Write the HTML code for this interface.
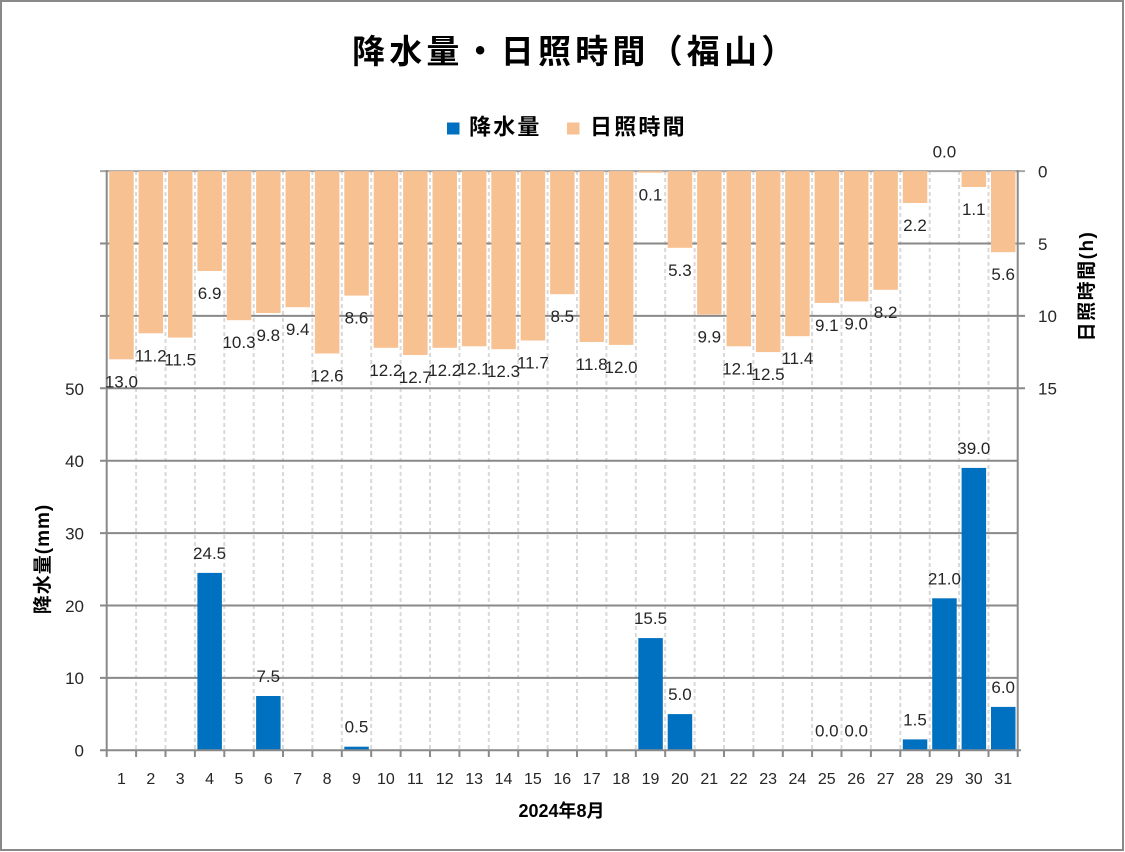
<!DOCTYPE html>
<html><head><meta charset="utf-8"><style>
html,body{margin:0;padding:0;background:#fff;}
svg{display:block;}
text{font-family:"Liberation Sans","Noto Sans CJK JP",sans-serif;}
</style></head><body>
<svg width="1125" height="852" viewBox="0 0 1125 852" xmlns="http://www.w3.org/2000/svg">
<rect x="0" y="0" width="1125" height="852" fill="#fff"/>
<rect x="1" y="1" width="1122" height="849" fill="none" stroke="#898989" stroke-width="2"/>

<!-- title -->
<text x="352" y="63" font-size="33" font-weight="bold" letter-spacing="4.2" fill="#000">降水量・日照時間（福山）</text>

<!-- legend -->
<rect x="447" y="122.5" width="12.5" height="12" fill="#0070C0"/>
<text x="469" y="134.5" font-size="22" font-weight="bold" letter-spacing="2.2" fill="#000">降水量</text>
<rect x="567" y="122.5" width="12.5" height="12" fill="#F8C191"/>
<text x="590" y="134.5" font-size="22" font-weight="bold" letter-spacing="2.2" fill="#000">日照時間</text>

<!-- dashed vertical gridlines -->
<g stroke="#d9d9d9" stroke-width="2" stroke-dasharray="4,3">
<line x1="136.1" y1="171" x2="136.1" y2="750"/>
<line x1="165.5" y1="171" x2="165.5" y2="750"/>
<line x1="194.9" y1="171" x2="194.9" y2="750"/>
<line x1="224.3" y1="171" x2="224.3" y2="750"/>
<line x1="253.7" y1="171" x2="253.7" y2="750"/>
<line x1="283.0" y1="171" x2="283.0" y2="750"/>
<line x1="312.4" y1="171" x2="312.4" y2="750"/>
<line x1="341.8" y1="171" x2="341.8" y2="750"/>
<line x1="371.2" y1="171" x2="371.2" y2="750"/>
<line x1="400.6" y1="171" x2="400.6" y2="750"/>
<line x1="430.0" y1="171" x2="430.0" y2="750"/>
<line x1="459.4" y1="171" x2="459.4" y2="750"/>
<line x1="488.8" y1="171" x2="488.8" y2="750"/>
<line x1="518.2" y1="171" x2="518.2" y2="750"/>
<line x1="547.6" y1="171" x2="547.6" y2="750"/>
<line x1="577.0" y1="171" x2="577.0" y2="750"/>
<line x1="606.4" y1="171" x2="606.4" y2="750"/>
<line x1="635.8" y1="171" x2="635.8" y2="750"/>
<line x1="665.2" y1="171" x2="665.2" y2="750"/>
<line x1="694.6" y1="171" x2="694.6" y2="750"/>
<line x1="724.0" y1="171" x2="724.0" y2="750"/>
<line x1="753.4" y1="171" x2="753.4" y2="750"/>
<line x1="782.8" y1="171" x2="782.8" y2="750"/>
<line x1="812.1" y1="171" x2="812.1" y2="750"/>
<line x1="841.5" y1="171" x2="841.5" y2="750"/>
<line x1="870.9" y1="171" x2="870.9" y2="750"/>
<line x1="900.3" y1="171" x2="900.3" y2="750"/>
<line x1="929.7" y1="171" x2="929.7" y2="750"/>
<line x1="959.1" y1="171" x2="959.1" y2="750"/>
<line x1="988.5" y1="171" x2="988.5" y2="750"/>
</g>

<!-- horizontal gridlines -->
<g stroke="#898989" stroke-width="2">
<line x1="100" y1="171.1" x2="1025" y2="171.1" stroke="#a6a6a6"/>
<line x1="100" y1="243.5" x2="1025" y2="243.5"/>
<line x1="100" y1="315.9" x2="1025" y2="315.9"/>
<line x1="100" y1="388.3" x2="1025" y2="388.3"/>
<line x1="100" y1="460.7" x2="1018" y2="460.7"/>
<line x1="100" y1="533.1" x2="1018" y2="533.1"/>
<line x1="100" y1="605.5" x2="1018" y2="605.5"/>
<line x1="100" y1="677.9" x2="1018" y2="677.9"/>
</g>

<!-- sunshine bars -->
<g fill="#F8C191">
<rect x="109.2" y="171.1" width="24.5" height="188.2"/>
<rect x="138.6" y="171.1" width="24.5" height="162.2"/>
<rect x="168.0" y="171.1" width="24.5" height="166.5"/>
<rect x="197.4" y="171.1" width="24.5" height="99.9"/>
<rect x="226.8" y="171.1" width="24.5" height="149.1"/>
<rect x="256.1" y="171.1" width="24.5" height="141.9"/>
<rect x="285.5" y="171.1" width="24.5" height="136.1"/>
<rect x="314.9" y="171.1" width="24.5" height="182.4"/>
<rect x="344.3" y="171.1" width="24.5" height="124.5"/>
<rect x="373.7" y="171.1" width="24.5" height="176.7"/>
<rect x="403.1" y="171.1" width="24.5" height="183.9"/>
<rect x="432.5" y="171.1" width="24.5" height="176.7"/>
<rect x="461.9" y="171.1" width="24.5" height="175.2"/>
<rect x="491.3" y="171.1" width="24.5" height="178.1"/>
<rect x="520.7" y="171.1" width="24.5" height="169.4"/>
<rect x="550.1" y="171.1" width="24.5" height="123.1"/>
<rect x="579.5" y="171.1" width="24.5" height="170.9"/>
<rect x="608.9" y="171.1" width="24.5" height="173.8"/>
<rect x="638.3" y="171.1" width="24.5" height="1.6"/>
<rect x="667.7" y="171.1" width="24.5" height="76.7"/>
<rect x="697.1" y="171.1" width="24.5" height="143.4"/>
<rect x="726.5" y="171.1" width="24.5" height="175.2"/>
<rect x="755.9" y="171.1" width="24.5" height="181.0"/>
<rect x="785.2" y="171.1" width="24.5" height="165.1"/>
<rect x="814.6" y="171.1" width="24.5" height="131.8"/>
<rect x="844.0" y="171.1" width="24.5" height="130.3"/>
<rect x="873.4" y="171.1" width="24.5" height="118.7"/>
<rect x="902.8" y="171.1" width="24.5" height="31.9"/>
<rect x="961.6" y="171.1" width="24.5" height="15.9"/>
<rect x="991.0" y="171.1" width="24.5" height="81.1"/>
</g>

<!-- rain bars -->
<g fill="#0070C0">
<rect x="197.4" y="572.9" width="24.5" height="177.4"/>
<rect x="256.1" y="696.0" width="24.5" height="54.3"/>
<rect x="344.3" y="746.7" width="24.5" height="3.6"/>
<rect x="638.3" y="638.1" width="24.5" height="112.2"/>
<rect x="667.7" y="714.1" width="24.5" height="36.2"/>
<rect x="902.8" y="739.4" width="24.5" height="10.9"/>
<rect x="932.2" y="598.3" width="24.5" height="152.0"/>
<rect x="961.6" y="467.9" width="24.5" height="282.4"/>
<rect x="991.0" y="706.9" width="24.5" height="43.4"/>
</g>

<!-- axes -->
<g stroke="#898989" stroke-width="2">
<line x1="106.7" y1="170.1" x2="106.7" y2="757"/>
<line x1="1017.7" y1="170.1" x2="1017.7" y2="757"/>
<line x1="100" y1="750.3" x2="1021" y2="750.3"/>
<line x1="136.1" y1="750" x2="136.1" y2="757"/>
<line x1="165.5" y1="750" x2="165.5" y2="757"/>
<line x1="194.9" y1="750" x2="194.9" y2="757"/>
<line x1="224.3" y1="750" x2="224.3" y2="757"/>
<line x1="253.7" y1="750" x2="253.7" y2="757"/>
<line x1="283.0" y1="750" x2="283.0" y2="757"/>
<line x1="312.4" y1="750" x2="312.4" y2="757"/>
<line x1="341.8" y1="750" x2="341.8" y2="757"/>
<line x1="371.2" y1="750" x2="371.2" y2="757"/>
<line x1="400.6" y1="750" x2="400.6" y2="757"/>
<line x1="430.0" y1="750" x2="430.0" y2="757"/>
<line x1="459.4" y1="750" x2="459.4" y2="757"/>
<line x1="488.8" y1="750" x2="488.8" y2="757"/>
<line x1="518.2" y1="750" x2="518.2" y2="757"/>
<line x1="547.6" y1="750" x2="547.6" y2="757"/>
<line x1="577.0" y1="750" x2="577.0" y2="757"/>
<line x1="606.4" y1="750" x2="606.4" y2="757"/>
<line x1="635.8" y1="750" x2="635.8" y2="757"/>
<line x1="665.2" y1="750" x2="665.2" y2="757"/>
<line x1="694.6" y1="750" x2="694.6" y2="757"/>
<line x1="724.0" y1="750" x2="724.0" y2="757"/>
<line x1="753.4" y1="750" x2="753.4" y2="757"/>
<line x1="782.8" y1="750" x2="782.8" y2="757"/>
<line x1="812.1" y1="750" x2="812.1" y2="757"/>
<line x1="841.5" y1="750" x2="841.5" y2="757"/>
<line x1="870.9" y1="750" x2="870.9" y2="757"/>
<line x1="900.3" y1="750" x2="900.3" y2="757"/>
<line x1="929.7" y1="750" x2="929.7" y2="757"/>
<line x1="959.1" y1="750" x2="959.1" y2="757"/>
<line x1="988.5" y1="750" x2="988.5" y2="757"/>
</g>

<!-- left tick labels -->
<g font-size="17" fill="#262626" text-anchor="end">
<text x="84" y="395">50</text>
<text x="84" y="467">40</text>
<text x="84" y="539.5">30</text>
<text x="84" y="612">20</text>
<text x="84" y="684">10</text>
<text x="84" y="756.5">0</text>
</g>
<!-- right tick labels -->
<g font-size="17" fill="#262626" text-anchor="start">
<text x="1038" y="177.5">0</text>
<text x="1038" y="250">5</text>
<text x="1038" y="322">10</text>
<text x="1038" y="394.5">15</text>
</g>

<!-- x labels -->
<g font-size="16" fill="#262626" text-anchor="middle">
<text x="121.4" y="784">1</text>
<text x="150.8" y="784">2</text>
<text x="180.2" y="784">3</text>
<text x="209.6" y="784">4</text>
<text x="239.0" y="784">5</text>
<text x="268.3" y="784">6</text>
<text x="297.7" y="784">7</text>
<text x="327.1" y="784">8</text>
<text x="356.5" y="784">9</text>
<text x="385.9" y="784">10</text>
<text x="415.3" y="784">11</text>
<text x="444.7" y="784">12</text>
<text x="474.1" y="784">13</text>
<text x="503.5" y="784">14</text>
<text x="532.9" y="784">15</text>
<text x="562.3" y="784">16</text>
<text x="591.7" y="784">17</text>
<text x="621.1" y="784">18</text>
<text x="650.5" y="784">19</text>
<text x="679.9" y="784">20</text>
<text x="709.3" y="784">21</text>
<text x="738.7" y="784">22</text>
<text x="768.1" y="784">23</text>
<text x="797.4" y="784">24</text>
<text x="826.8" y="784">25</text>
<text x="856.2" y="784">26</text>
<text x="885.6" y="784">27</text>
<text x="915.0" y="784">28</text>
<text x="944.4" y="784">29</text>
<text x="973.8" y="784">30</text>
<text x="1003.2" y="784">31</text>
</g>

<!-- sunshine data labels -->
<g font-size="17" fill="#262626" text-anchor="middle">
<text x="121.4" y="387.3">13.0</text>
<text x="150.8" y="361.3">11.2</text>
<text x="180.2" y="365.6">11.5</text>
<text x="209.6" y="299.0">6.9</text>
<text x="239.0" y="348.2">10.3</text>
<text x="268.3" y="341.0">9.8</text>
<text x="297.7" y="335.2">9.4</text>
<text x="327.1" y="381.5">12.6</text>
<text x="356.5" y="323.6">8.6</text>
<text x="385.9" y="375.8">12.2</text>
<text x="415.3" y="383.0">12.7</text>
<text x="444.7" y="375.8">12.2</text>
<text x="474.1" y="374.3">12.1</text>
<text x="503.5" y="377.2">12.3</text>
<text x="532.9" y="368.5">11.7</text>
<text x="562.3" y="322.2">8.5</text>
<text x="591.7" y="370.0">11.8</text>
<text x="621.1" y="372.9">12.0</text>
<text x="650.5" y="200.5">0.1</text>
<text x="679.9" y="275.8">5.3</text>
<text x="709.3" y="342.5">9.9</text>
<text x="738.7" y="374.3">12.1</text>
<text x="768.1" y="380.1">12.5</text>
<text x="797.4" y="364.2">11.4</text>
<text x="826.8" y="330.9">9.1</text>
<text x="856.2" y="329.4">9.0</text>
<text x="885.6" y="317.8">8.2</text>
<text x="915.0" y="231.0">2.2</text>
<text x="944.4" y="157.5">0.0</text>
<text x="973.8" y="215.0">1.1</text>
<text x="1003.2" y="280.2">5.6</text>
</g>

<!-- rain data labels -->
<g font-size="17" fill="#262626" text-anchor="middle">
<text x="209.6" y="559">24.5</text>
<text x="268.3" y="682">7.5</text>
<text x="356.5" y="732.7">0.5</text>
<text x="650.5" y="624">15.5</text>
<text x="679.9" y="700">5.0</text>
<text x="826.8" y="736.3">0.0</text>
<text x="856.2" y="736.3">0.0</text>
<text x="915.0" y="725.4">1.5</text>
<text x="944.4" y="584.3">21.0</text>
<text x="973.8" y="454">39.0</text>
<text x="1003.2" y="692.9">6.0</text>
</g>

<!-- axis titles -->
<text x="561.5" y="817" font-size="18" font-weight="bold" text-anchor="middle" fill="#000">2024年8月</text>
<text transform="translate(49,559) rotate(-90)" font-size="19" font-weight="bold" text-anchor="middle" letter-spacing="1" fill="#000">降水量(mm)</text>
<text transform="translate(1093,286) rotate(-90)" font-size="19" font-weight="bold" text-anchor="middle" letter-spacing="1.5" fill="#000">日照時間(h)</text>
</svg>
</body></html>
